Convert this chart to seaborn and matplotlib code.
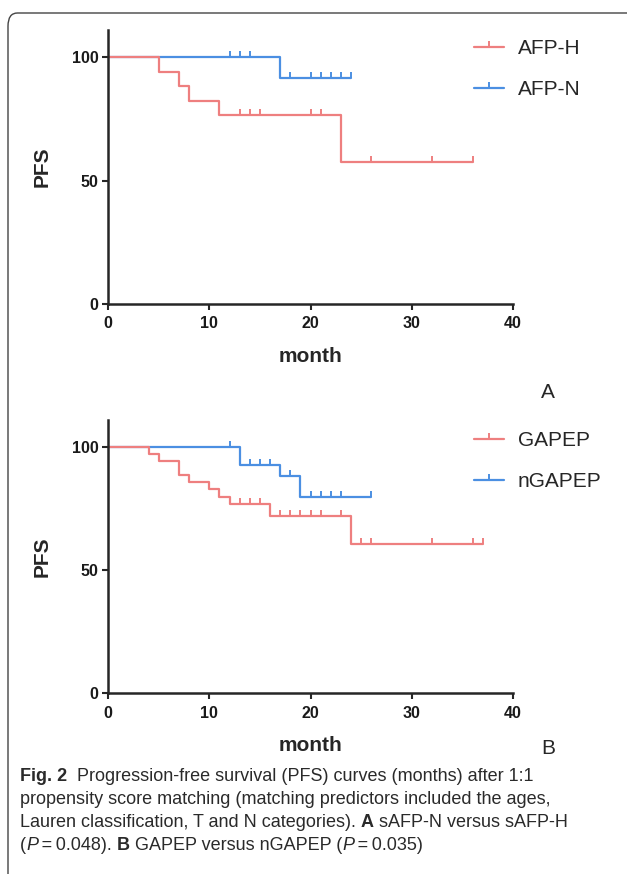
import matplotlib as mpl
mpl.use('Agg')

import numpy as np
import pandas as pd
import seaborn as sns
import matplotlib.pyplot as plt
from matplotlib.path import Path
from matplotlib.lines import Line2D
from matplotlib.patches import FancyBboxPatch, Rectangle

# ---- data (months / PFS %) ----
afp_h_drop = [5, 7, 8, 11, 23]
afp_h_level = [94.1, 88.2, 82.4, 76.5, 57.4]
afp_h_cens = [13, 14, 15, 20, 21, 26, 32, 36]
afp_h_end = 36

afp_n_drop = [17]
afp_n_level = [91.7]
afp_n_cens = [12, 13, 14, 18, 20, 21, 22, 23, 24]
afp_n_end = 24

gapep_drop = [4, 5, 7, 8, 10, 11, 12, 16, 24]
gapep_level = [97.2, 94.4, 88.6, 85.9, 82.9, 79.8, 76.7, 72.0, 60.4]
gapep_cens = [13, 14, 15, 17, 18, 19, 20, 21, 23, 25, 26, 32, 36, 37]
gapep_end = 37

ngapep_drop = [13, 17, 19]
ngapep_level = [92.9, 88.3, 79.5]
ngapep_cens = [12, 14, 15, 16, 18, 20, 21, 22, 23, 26]
ngapep_end = 26

red = '#EE7F7F'
blue = '#4B8FE2'

W, H = 627, 874

sns.set_style("ticks")
plt.rcParams['font.family'] = ['Liberation Sans', 'DejaVu Sans']

# censor tick pointing up from the curve
tick = Path([(0, 0), (0, 1)], [Path.MOVETO, Path.LINETO])


def step_frame(name, drops, levels, end):
    x = [0] + list(drops) + [end]
    y = [100] + list(levels) + [levels[-1]]
    return pd.DataFrame({'month': x, 'PFS': y, 'group': name})


def level_at(t, drops, levels):
    s = 100
    for d, l in zip(drops, levels):
        if t >= d:
            s = l
    return s


def km_panel(ax, groups, colors):
    df = pd.concat([step_frame(g[0], g[1], g[2], g[4]) for g in groups])
    # blue group drawn first so the red curve sits on top where they overlap
    order = [g[0] for g in groups][::-1]
    sns.lineplot(data=df, x='month', y='PFS', hue='group', hue_order=order,
                 palette=colors, estimator=None, sort=False, drawstyle='steps-post',
                 linewidth=1.6, legend=False, ax=ax)
    for (name, drops, levels, cens, end) in groups:
        cy = [level_at(t, drops, levels) for t in cens]
        ax.plot(cens, cy, linestyle='none', marker=tick, markersize=9,
                markeredgewidth=1.4, color=colors[name])
    ax.set_xlim(0, 40)
    ax.set_ylim(0, 111)
    ax.set_xticks([0, 10, 20, 30, 40])
    ax.set_yticks([0, 50, 100])
    sns.despine(ax=ax)
    for s in ['left', 'bottom']:
        ax.spines[s].set_linewidth(1.8)
    ax.tick_params(width=1.5, length=4, labelsize=11.5, pad=3, labelcolor='#1a1a1a')
    ax.tick_params(axis='x', pad=5)
    for lab in ax.get_xticklabels() + ax.get_yticklabels():
        lab.set_fontweight('bold')
    ax.set_xlabel('month', fontsize=15, fontweight='bold', labelpad=11)
    ax.set_ylabel('PFS', fontsize=15, fontweight='bold', labelpad=14)


fig = plt.figure(figsize=(W / 100, H / 100), dpi=100)

axA = fig.add_axes([108 / W, 1 - 304 / H, 405 / W, 274 / H])
km_panel(axA, [('AFP-H', afp_h_drop, afp_h_level, afp_h_cens, afp_h_end),
               ('AFP-N', afp_n_drop, afp_n_level, afp_n_cens, afp_n_end)],
         {'AFP-H': red, 'AFP-N': blue})

axB = fig.add_axes([108 / W, 1 - 693 / H, 405 / W, 273 / H])
km_panel(axB, [('GAPEP', gapep_drop, gapep_level, gapep_cens, gapep_end),
               ('nGAPEP', ngapep_drop, ngapep_level, ngapep_cens, ngapep_end)],
         {'GAPEP': red, 'nGAPEP': blue})


def add_legend(names, top_px):
    handles = [Line2D([], [], color=c, linewidth=1.6, marker=tick, markersize=9,
                      markeredgewidth=1.4) for c in (red, blue)]
    fig.legend(handles, names, loc='upper left', frameon=False,
               bbox_to_anchor=(474 / W, 1 - top_px / H), bbox_transform=fig.transFigure,
               fontsize=15, handlelength=1.45, handletextpad=0.65, labelspacing=1.05,
               numpoints=1, borderpad=0, borderaxespad=0)


add_legend(['AFP-H', 'AFP-N'], 39)
add_legend(['GAPEP', 'nGAPEP'], 431)

fig.text(548 / W, 1 - 392 / H, 'A', fontsize=15, ha='center', va='center')
fig.text(548 / W, 1 - 749 / H, 'B', fontsize=15, ha='center', va='center')

# caption area covers the bottom of panel B
fig.add_artist(Rectangle((0, 0), 1, 1 - 757 / H, transform=fig.transFigure,
                         facecolor='white', edgecolor='none', zorder=5))

# rounded frame
fig.add_artist(FancyBboxPatch((8 / W, -0.1), 1.2, 1 - 13 / H + 0.1,
                              boxstyle='round,pad=0,rounding_size=0.015',
                              transform=fig.transFigure, fill=False,
                              edgecolor='#444444', linewidth=1.0, zorder=6))

# caption with mixed weights
renderer = fig.canvas.get_renderer()
cap_lines = [
    [('Fig. 2', 'bold', 'normal'),
     ('  Progression-free survival (PFS) curves (months) after 1:1', 'normal', 'normal')],
    [('propensity score matching (matching predictors included the ages,', 'normal', 'normal')],
    [('Lauren classification, T and N categories). ', 'normal', 'normal'),
     ('A', 'bold', 'normal'), (' sAFP-N versus sAFP-H', 'normal', 'normal')],
    [('(', 'normal', 'normal'), ('P', 'normal', 'italic'), ('\u2009=\u20090.048). ', 'normal', 'normal'),
     ('B', 'bold', 'normal'), (' GAPEP versus nGAPEP (', 'normal', 'normal'),
     ('P', 'normal', 'italic'), ('\u2009=\u20090.035)', 'normal', 'normal')],
]
baselines = [781, 804, 827, 850]
for runs, base in zip(cap_lines, baselines):
    x = 20
    for txt, wt, st in runs:
        t = fig.text(x / W, 1 - base / H, txt, fontsize=13, fontweight=wt, fontstyle=st,
                     ha='left', va='baseline', color='#2a2a2a', zorder=7)
        bb = t.get_window_extent(renderer)
        x += bb.width

fig.savefig('out.png', dpi=100)
